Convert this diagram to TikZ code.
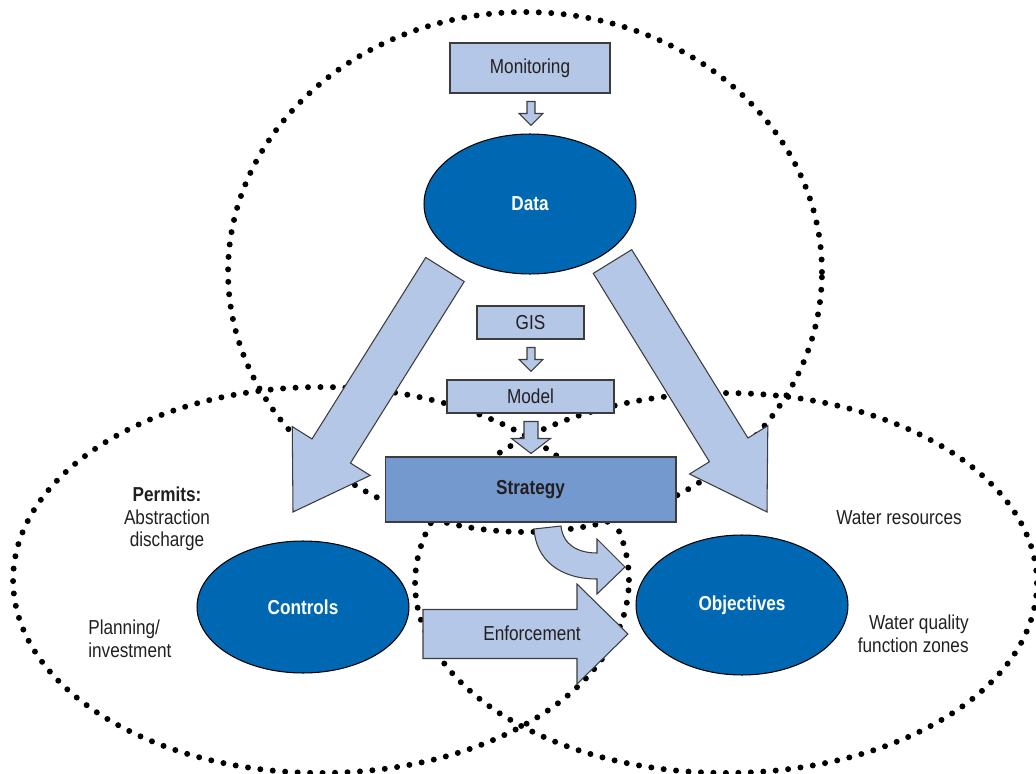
\documentclass[tikz,border=0pt]{standalone}
\usepackage{fontspec}
\setmainfont{Liberation Sans}[FakeStretch=0.85]
\usetikzlibrary{shapes.geometric,calc}

\definecolor{paleblue}{HTML}{B4C7E7}
\definecolor{midblue}{HTML}{7399CF}
\definecolor{deepblue}{HTML}{0068B3}
\definecolor{ink}{HTML}{231F20}
\definecolor{edgegray}{HTML}{3C3C3C}

% Block arrow from #2 to #3: half shaft width #4, half head width #5, head length #6
\newcommand{\blockarrow}[6][]{%
  \coordinate (ba-base) at ($(#3)!#6!(#2)$);
  \filldraw[#1] ($(#2)!#4!90:(#3)$) -- ($(ba-base)!#4!-90:(#2)$)
    -- ($(ba-base)!#5!-90:(#2)$) -- (#3) -- ($(ba-base)!#5!90:(#2)$)
    -- ($(ba-base)!#4!90:(#2)$) -- ($(#2)!#4!-90:(#3)$) -- cycle;
}

\begin{document}
\begin{tikzpicture}[x=0.02cm, y=-0.02cm,
  font=\fontsize{11.5}{13.5}\selectfont,
  zone/.style={draw=black, line width=3.4pt, dash pattern=on 0pt off 7.1pt, line cap=round},
  box/.style={rectangle, draw=edgegray, line width=0.6pt, fill=paleblue, inner sep=0pt, text=ink},
  core/.style={ellipse, draw=black, line width=0.6pt, fill=deepblue, text=white,
    font=\fontsize{11.5}{13.5}\selectfont\bfseries, inner sep=0pt, minimum width=4.24cm},
  flow/.style={draw=edgegray, line width=0.6pt, fill=paleblue, line join=miter},
  note/.style={text=ink, inner sep=0pt, font=\fontsize{11.5}{12.8}\selectfont}]

\useasboundingbox (0,0) rectangle (1036,774);

% three overlapping zones
\draw[zone] (525,272) ellipse [x radius=5.94cm, y radius=5.2cm];
\draw[zone] (321,580) ellipse [x radius=6.16cm, y radius=3.86cm];
\draw[zone] (726,583) ellipse [x radius=6.22cm, y radius=3.8cm];

% main elements
\node[box, minimum width=3.2cm, minimum height=1cm] (mon) at (530,68) {Monitoring};
\node[core, minimum height=2.8cm] (data) at (530,204) {Data};
\node[box, minimum width=2.14cm, minimum height=0.66cm] (gis) at (530.5,322.5) {GIS};
\node[box, minimum width=3.34cm, minimum height=0.66cm] (model) at (530.5,396.5) {Model};
\node[box, fill=midblue, minimum width=5.82cm, minimum height=1.3cm,
  font=\fontsize{11.5}{13.5}\selectfont\bfseries] (strat) at (530.5,489.5) {Strategy};
\node[core, minimum height=2.64cm] (ctrl) at (303,607) {Controls};
\node[core, minimum height=2.8cm] (obj) at (742,605) {Objectives};

% small flow arrows down the middle
\coordinate (m1) at ($(mon.south)+(1,8)$);
\coordinate (m2) at ($(data.north)+(1,-8)$);
\blockarrow[flow]{m1}{m2}{0.08cm}{0.24cm}{0.24cm}
\coordinate (g1) at ($(gis.south)+(0.5,8)$);
\coordinate (g2) at ($(model.north)+(0.5,-8)$);
\blockarrow[flow]{g1}{g2}{0.08cm}{0.24cm}{0.24cm}
\coordinate (s1) at ($(model.south)+(0.5,8)$);
\coordinate (s2) at ($(strat.north)+(0.5,-3)$);
\blockarrow[flow]{s1}{s2}{0.14cm}{0.39cm}{0.3cm}

% large arrows from Data
\coordinate (dl1) at (445,269.5);
\coordinate (dl2) at (293,512);
\blockarrow[flow]{dl1}{dl2}{0.454cm}{0.92cm}{1.44cm}
\coordinate (dr1) at (612.5,261.5);
\coordinate (dr2) at (767,512);
\blockarrow[flow]{dr1}{dr2}{0.452cm}{0.92cm}{1.46cm}

% enforcement arrow
\coordinate (e1) at (423,634);
\coordinate (e2) at (628,634);
\blockarrow[flow]{e1}{e2}{0.49cm}{1.0cm}{1.02cm}
\node[text=ink, inner sep=0pt] (enf) at (532,633) {Enforcement};

% curved arrow from Strategy to Objectives
\filldraw[flow] (534,529) .. controls (536,560) and (560,579) .. (597,579)
  -- (597,594) -- (625,567) -- (597,539) -- (597,553)
  .. controls (578,553) and (563,545) .. (561,526) -- cycle;

% annotations
\node[note, align=center] (permits) at (167,519) {\textbf{Permits:}\\Abstraction\\discharge};
\node[note, align=left, anchor=west] (plan) at (88,639) {Planning/\\investment};
\node[note] (wres) at (899,518) {Water resources};
\node[note, align=right, anchor=east] (wq) at (969,634) {Water quality\\function zones};

\end{tikzpicture}
\end{document}
